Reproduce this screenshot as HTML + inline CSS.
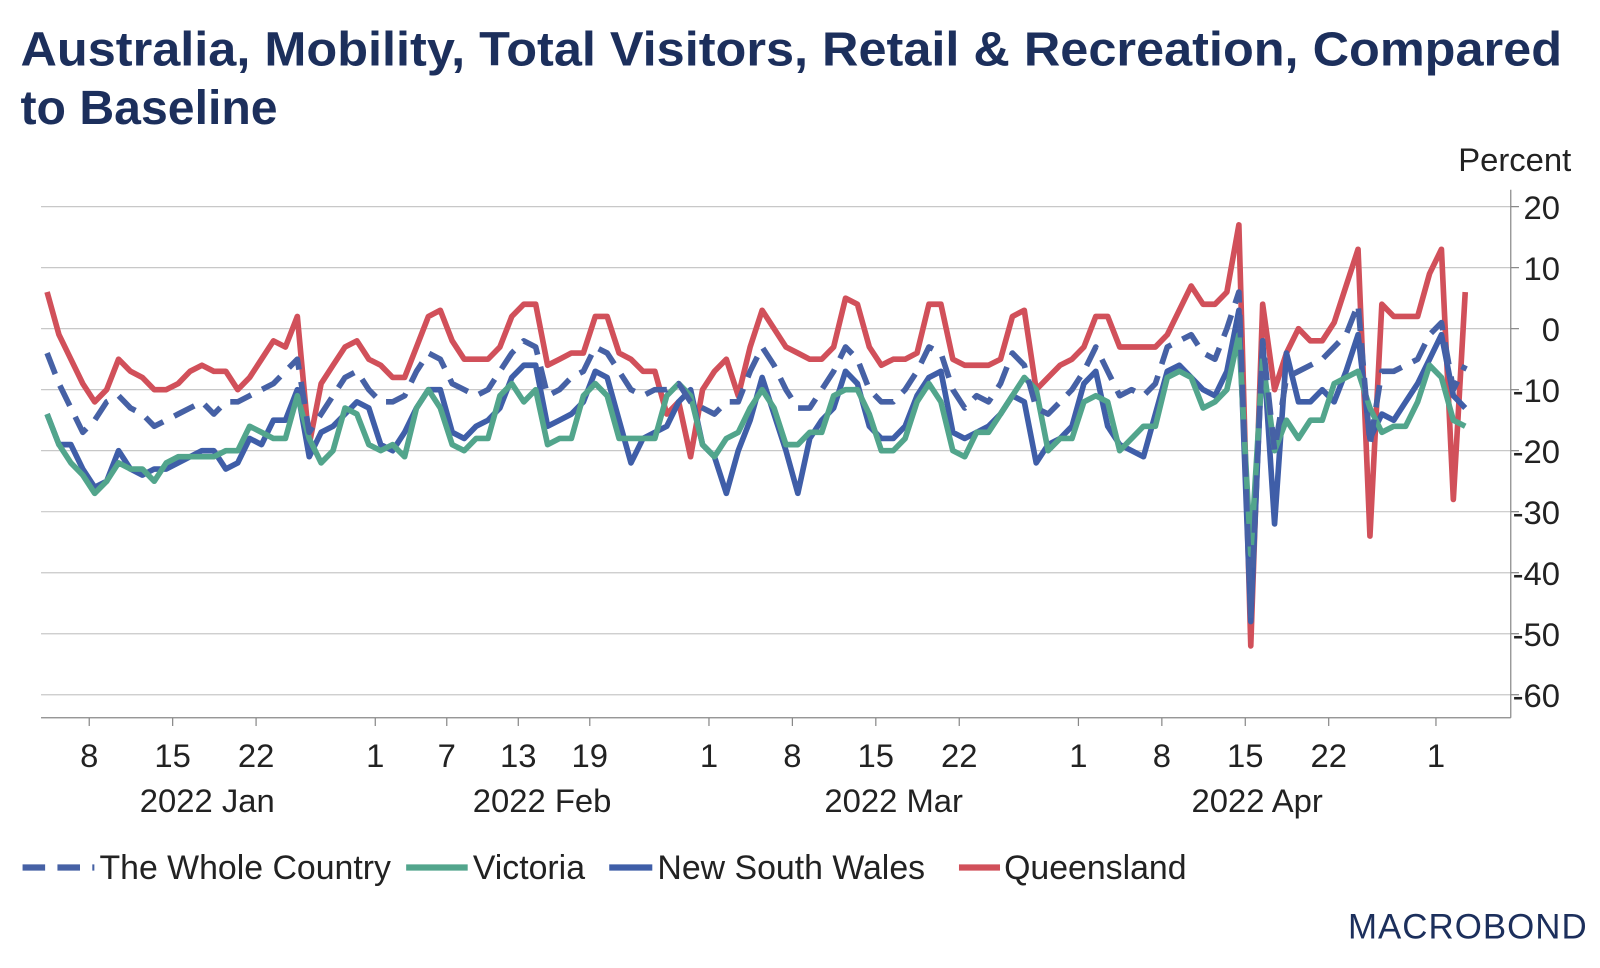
<!DOCTYPE html>
<html><head><meta charset="utf-8"><style>
html,body{margin:0;padding:0;background:#fff;}
svg{display:block;font-family:"Liberation Sans",Arial,sans-serif;}
</style></head><body>
<svg id="chart" width="1600" height="968" viewBox="0 0 1560 944" preserveAspectRatio="none" xmlns="http://www.w3.org/2000/svg">
<text x="20" y="64" font-size="47" font-weight="bold" fill="#1c2f5c" textLength="1503" lengthAdjust="spacingAndGlyphs">Australia, Mobility, Total Visitors, Retail &amp; Recreation, Compared</text>
<text x="20" y="121" font-size="47" font-weight="bold" fill="#1c2f5c">to Baseline</text>
<text x="1532" y="167" font-size="32" text-anchor="end" fill="#222">Percent</text>
<g id="grid"></g><g id="axes"></g><g id="series"></g>
<g font-size="33" fill="#222">
 <g><line x1="22" y1="846" x2="92" y2="846" stroke="#4661a5" stroke-width="6" stroke-dasharray="22,12"/><text x="97" y="857">The Whole Country</text></g>
 <g><line x1="396" y1="846" x2="456" y2="846" stroke="#52a58c" stroke-width="6"/><text x="461" y="857">Victoria</text></g>
 <g><line x1="594" y1="846" x2="636" y2="846" stroke="#3f5ea8" stroke-width="6"/><text x="641" y="857">New South Wales</text></g>
 <g><line x1="935" y1="846" x2="975" y2="846" stroke="#d1505a" stroke-width="6"/><text x="979" y="857">Queensland</text></g>
</g>
<text x="1548" y="915" font-size="34" text-anchor="end" fill="#1c2f5c" letter-spacing="1">MACROBOND</text>
</svg>
<script>
const yTicks=[20,10,0,-10,-20,-30,-40,-50,-60];
const dayTicks=[[7,"8"],[14,"15"],[21,"22"],[31,"1"],[37,"7"],[43,"13"],[49,"19"],[59,"1"],[66,"8"],[73,"15"],[80,"22"],[90,"1"],[97,"8"],[104,"15"],[111,"22"],[120,"1"]];
const monthLabels=[[16.9,"2022 Jan"],[45,"2022 Feb"],[74.5,"2022 Mar"],[105,"2022 Apr"]];
const startDay=3.46;
const whole=[-4,-9,-13,-17,-15,-12,-11,-13,-14,-16,-15,-14,-13,-12,-14,-12,-12,-11,-10,-9,-7,-5,-17,-14,-11,-8,-7,-10,-12,-12,-11,-7,-4,-5,-9,-10,-11,-10,-7,-4,-2,-3,-11,-10,-8,-7,-3,-4,-7,-10,-11,-10,-10,-9,-12,-13,-14,-12,-12,-7,-3,-6,-10,-13,-13,-10,-7,-3,-5,-10,-12,-12,-10,-7,-3,-4,-10,-13,-11,-12,-9,-4,-6,-13,-14,-12,-10,-7,-3,-7,-11,-10,-11,-9,-3,-2,-1,-4,-5,0,6,-47,-2,-20,-8,-7,-6,-5,-3,-1,4,-19,-7,-7,-6,-5,-1,1,-10,-6];
const victoria=[-14,-19,-22,-24,-27,-25,-22,-23,-23,-25,-22,-21,-21,-21,-21,-20,-20,-16,-17,-18,-18,-11,-18,-22,-20,-13,-14,-19,-20,-19,-21,-13,-10,-13,-19,-20,-18,-18,-11,-9,-12,-10,-19,-18,-18,-11,-9,-11,-18,-18,-18,-18,-11,-9,-11,-19,-21,-18,-17,-13,-10,-13,-19,-19,-17,-17,-11,-10,-10,-14,-20,-20,-18,-12,-9,-12,-20,-21,-17,-17,-14,-11,-8,-10,-20,-18,-18,-12,-11,-12,-20,-18,-16,-16,-8,-7,-8,-13,-12,-10,-1,-37,-5,-20,-15,-18,-15,-15,-9,-8,-7,-13,-17,-16,-16,-12,-6,-8,-15,-16];
const nsw=[-14,-19,-19,-23,-26,-25,-20,-23,-24,-23,-23,-22,-21,-20,-20,-23,-22,-18,-19,-15,-15,-10,-21,-17,-16,-14,-12,-13,-19,-20,-17,-13,-10,-10,-17,-18,-16,-15,-13,-8,-6,-6,-16,-15,-14,-12,-7,-8,-15,-22,-18,-17,-16,-12,-10,-19,-21,-27,-20,-15,-8,-14,-20,-27,-18,-15,-13,-7,-9,-16,-18,-18,-16,-11,-8,-7,-17,-18,-17,-16,-14,-11,-12,-22,-19,-18,-16,-9,-7,-16,-19,-20,-21,-14,-7,-6,-8,-10,-11,-7,3,-48,-2,-32,-4,-12,-12,-10,-12,-7,-1,-18,-14,-15,-12,-9,-5,-1,-11,-13];
const queensland=[6,-1,-5,-9,-12,-10,-5,-7,-8,-10,-10,-9,-7,-6,-7,-7,-10,-8,-5,-2,-3,2,-19,-9,-6,-3,-2,-5,-6,-8,-8,-3,2,3,-2,-5,-5,-5,-3,2,4,4,-6,-5,-4,-4,2,2,-4,-5,-7,-7,-14,-12,-21,-10,-7,-5,-11,-3,3,0,-3,-4,-5,-5,-3,5,4,-3,-6,-5,-5,-4,4,4,-5,-6,-6,-6,-5,2,3,-10,-8,-6,-5,-3,2,2,-3,-3,-3,-3,-1,3,7,4,4,6,17,-52,4,-10,-4,0,-2,-2,1,7,13,-34,4,2,2,2,9,13,-28,6];
const NS="http://www.w3.org/2000/svg";
const X0=40,X1=1473,Y0=185,Y1=700;
function xDay(d){return 87+11.62*(d-7);}
function yVal(v){return 320.5-(v*5.95);}
function mk(tag,attrs,parent){const e=document.createElementNS(NS,tag);for(const k in attrs)e.setAttribute(k,attrs[k]);parent.appendChild(e);return e;}
const grid=document.getElementById('grid'),axes=document.getElementById('axes'),series=document.getElementById('series');
yTicks.forEach(v=>{
 const g=mk('line',{x1:X0,x2:X1,y1:yVal(v),y2:yVal(v),stroke:'#c8c8c8','stroke-width':1.2},grid);
 
 
 const tk=mk('line',{x1:X1,x2:X1+8,y1:yVal(v),y2:yVal(v),stroke:'#888','stroke-width':1.2},axes);
 
 
 const t=mk('text',{x:1521,y:yVal(v)+12,'font-size':32,'text-anchor':'end',fill:'#222'},axes);
 t.textContent=v;
 
 
});
const ra=mk('line',{x1:X1,x2:X1,y1:Y0,y2:Y1,stroke:'#888','stroke-width':1.2},axes);


const ba=mk('line',{x1:X0,x2:X1,y1:Y1,y2:Y1,stroke:'#888','stroke-width':1.2},axes);


dayTicks.forEach(([d,l])=>{
 const x=xDay(d);
 const tk=mk('line',{x1:x,x2:x,y1:Y1,y2:Y1+8,stroke:'#888','stroke-width':1.2},axes);
 
 
 const t=mk('text',{x:x,y:748,'font-size':32,'text-anchor':'middle',fill:'#222'},axes);
 t.textContent=l;
 
 
});
monthLabels.forEach(([d,l])=>{
 const t=mk('text',{x:xDay(d),y:792,'font-size':32,'text-anchor':'middle',fill:'#222'},axes);
 t.textContent=l;
 
 
});
function pts(arr){return arr.map((v,i)=>xDay(startDay+i).toFixed(1)+','+yVal(v).toFixed(1)).join(' ');}
const s1=mk('polyline',{points:pts(queensland),fill:'none',stroke:'#d1505a','stroke-width':5.5,'stroke-linejoin':'round'},series);


const s2=mk('polyline',{points:pts(nsw),fill:'none',stroke:'#3f5ea8','stroke-width':5.5,'stroke-linejoin':'round'},series);


const s3=mk('polyline',{points:pts(victoria),fill:'none',stroke:'#52a58c','stroke-width':5.5,'stroke-linejoin':'round'},series);


const s4=mk('polyline',{points:pts(whole),fill:'none',stroke:'#4661a5','stroke-width':5.5,'stroke-dasharray':'22,12','stroke-linejoin':'round'},series);


</script>
</body></html>
